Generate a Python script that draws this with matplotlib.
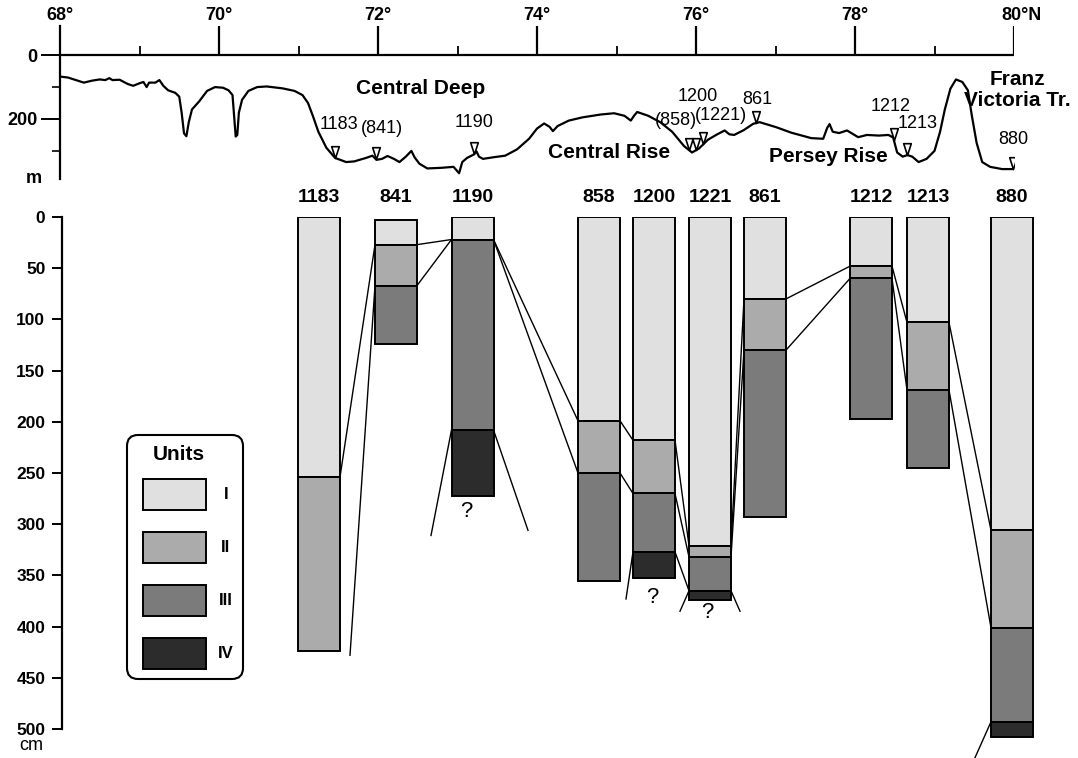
import numpy as np
import matplotlib
matplotlib.use('Agg')
import matplotlib.pyplot as plt
from matplotlib.patches import FancyBboxPatch, Rectangle
from matplotlib.path import Path

plt.rcParams['font.family'] = ['Liberation Sans', 'DejaVu Sans']

# bathymetric profile along the transect (latitude, depth in m)
prof_lat = [68.00, 68.10, 68.20, 68.30, 68.40, 68.50, 68.57, 68.62, 68.66, 68.75, 68.85, 68.92,
            69.00, 69.05, 69.09, 69.12, 69.20, 69.25, 69.30, 69.36, 69.45, 69.50, 69.53, 69.56,
            69.59, 69.62, 69.66, 69.75, 69.85, 69.95, 70.05, 70.12, 70.17, 70.19, 70.21, 70.23,
            70.25, 70.29, 70.37, 70.48, 70.60, 70.80, 70.95, 71.05, 71.12, 71.18, 71.25, 71.35,
            71.46, 71.60, 71.70, 71.85, 71.93, 71.98, 72.05, 72.12, 72.20, 72.27, 72.35, 72.42,
            72.46, 72.52, 72.62, 72.80, 72.95, 73.02, 73.06, 73.12, 73.20, 73.24, 73.27, 73.32,
            73.45, 73.60, 73.75, 73.90, 74.00, 74.09, 74.16, 74.20, 74.26, 74.40, 74.57, 74.80,
            74.97, 75.10, 75.18, 75.22, 75.26, 75.40, 75.55, 75.70, 75.85, 75.95, 76.04, 76.15,
            76.26, 76.36, 76.42, 76.48, 76.60, 76.72, 76.80, 77.00, 77.20, 77.45, 77.60, 77.65,
            77.68, 77.72, 77.80, 77.90, 78.04, 78.15, 78.30, 78.42, 78.48, 78.53, 78.60, 78.66,
            78.72, 78.80, 78.90, 79.00, 79.07, 79.13, 79.20, 79.27, 79.35, 79.42, 79.47, 79.53,
            79.60, 79.70, 79.85, 80.14]
prof_depth = [67, 70, 78, 86, 80, 76, 78, 72, 78, 77, 90, 96,
              88, 84, 100, 86, 86, 78, 96, 110, 118, 130, 180, 245,
              254, 210, 170, 145, 112, 100, 102, 110, 125, 190, 255, 250,
              180, 140, 112, 100, 98, 104, 112, 125, 150, 190, 240, 290,
              322, 335, 333, 322, 315, 328, 325, 316, 325, 335, 318, 300,
              320, 340, 355, 353, 350, 370, 335, 322, 312, 302, 318, 325,
              320, 315, 295, 262, 230, 214, 225, 238, 222, 205, 195, 186,
              182, 190, 205, 190, 178, 190, 210, 240, 285, 305, 292, 265,
              249, 236, 248, 250, 235, 215, 210, 225, 243, 260, 262, 228,
              216, 240, 244, 236, 257, 250, 252, 250, 258, 305, 318, 313,
              318, 335, 325, 300, 240, 170, 105, 76, 84, 110, 190, 275,
              335, 350, 357, 357]

# core sites on the profile
site_names = ['1183', '(841)', '1190', '(858)', '1200', '(1221)', '861', '1212', '1213', '880']
site_lat = [71.46, 71.97, 73.21, 75.91, 76.00, 76.09, 76.75, 78.49, 78.65, 79.99]
site_label_off = [(4, 33), (6, 30), (0, 31), (-13, 29), (2, 54), (18, 29),
                  (2, 24), (-3, 34), (11, 32), (0, 30)]

# lithological units in the cores, depth in cm (base of each unit)
unit_names = ['I', 'II', 'III', 'IV']
unit_colors = ['#e0e0e0', '#ababab', '#7b7b7b', '#2c2c2c']
core_names = ['1183', '841', '1190', '858', '1200', '1221', '861', '1212', '1213', '880']
core_top = [0, 3, 0, 0, 0, 0, 0, 0, 0, 0]
base_I = [254, 27, 22, 199, 218, 321, 80, 48, 103, 306]
base_II = [424, 67, 22, 250, 270, 332, 130, 60, 169, 401]
base_III = [424, 124, 208, 355, 327, 365, 293, 197, 245, 493]
base_IV = [424, 124, 272, 355, 353, 374, 293, 197, 245, 508]

# correlation of unit bases between neighbouring cores
ties = [('1183', 'I', '841', 'I'), ('841', 'I', '1190', 'I'), ('841', 'II', '1190', 'II'),
        ('1190', 'I', '858', 'I'), ('1190', 'II', '858', 'II'),
        ('858', 'I', '1200', 'I'), ('858', 'II', '1200', 'II'),
        ('1200', 'I', '1221', 'I'), ('1200', 'II', '1221', 'II'), ('1200', 'III', '1221', 'III'),
        ('1221', 'I', '861', 'I'), ('1221', 'II', '861', 'II'),
        ('861', 'I', '1212', 'I'), ('861', 'II', '1212', 'II'),
        ('1212', 'I', '1213', 'I'), ('1212', 'II', '1213', 'II'),
        ('1213', 'I', '880', 'I'), ('1213', 'II', '880', 'II')]
# boundaries that run out beyond the cores (core, unit base, side, end x px, end depth cm)
open_ties = [('841', 'II', 'left', 350, 428), ('1190', 'III', 'left', 431, 311),
             ('1190', 'III', 'right', 528, 306), ('1200', 'III', 'left', 626, 373),
             ('1221', 'III', 'left', 680, 385), ('1221', 'III', 'right', 740, 385),
             ('880', 'III', 'left', 975, 528)]
query_marks = [(466, 288), (652, 372), (707, 386)]

# layout (pixels)
W, H = 1078, 758
core_x = [319, 396, 472.5, 599, 654, 710, 765, 871, 928, 1012]
col_w = 42


def px_rect(left, top, right, bottom):
    return [left / W, 1 - bottom / H, (right - left) / W, (bottom - top) / H]


fig = plt.figure(figsize=(W / 100, H / 100), dpi=100)

# ---------------- bathymetric profile ----------------
ax1 = fig.add_axes(px_rect(60, 20, 1014, 185))
ax1.set_xlim(68, 80)
ax1.set_ylim(406.9, -110.3)
ax1.patch.set_visible(False)
for s in ['top', 'right', 'bottom']:
    ax1.spines[s].set_visible(False)
ax1.spines['left'].set_bounds(-91, 388)
ax1.spines['left'].set_linewidth(1.6)
ax1.hlines(0, 68, 80, color='black', lw=1.6)
ax1.vlines(np.arange(70, 81, 2), -91, 0, color='black', lw=1.6)
ax1.vlines(np.arange(69, 80, 2), -28, 0, color='black', lw=1.3)
ax1.set_xticks([])
ax1.set_yticks([0, 200])
ax1.set_yticklabels(['0', '200'], fontsize=13, fontweight='bold')
ax1.set_yticks([100, 300], minor=True)
ax1.tick_params(axis='y', which='major', length=14, width=1.4, pad=2)
ax1.tick_params(axis='y', which='minor', length=6, width=1.2)
ax1.text(67.67, 385, 'm', fontsize=13, fontweight='bold', ha='center', va='center')

lat_labels = ['68°', '70°', '72°', '74°', '76°', '78°', '80°N']
for lat, lab in zip(range(68, 81, 2), lat_labels):
    dx = 7 if lab.endswith('N') else 0
    ax1.annotate(lab, (lat, -125), xytext=(dx, 0), textcoords='offset pixels',
                 fontsize=13, fontweight='bold', ha='center', va='center',
                 annotation_clip=False)

ax1.plot(prof_lat, prof_depth, color='black', lw=1.6, zorder=2)

tri = Path([(0, 0), (-0.45, 1.4), (0.45, 1.4), (0, 0)],
           [Path.MOVETO, Path.LINETO, Path.LINETO, Path.CLOSEPOLY])
site_depth = np.interp(site_lat, prof_lat, prof_depth)
ax1.plot(site_lat, site_depth, ls='none', marker=tri, ms=17, mfc='white',
         mec='black', mew=1.2, zorder=3)
for name, lat, d, off in zip(site_names, site_lat, site_depth, site_label_off):
    ax1.annotate(name, (lat, d), xytext=off, textcoords='offset pixels',
                 fontsize=13, ha='center', va='center', annotation_clip=False)

ax1.text(72.53, 103, 'Central Deep', fontsize=15, fontweight='bold', ha='center', va='center')
ax1.text(74.91, 306, 'Central Rise', fontsize=15, fontweight='bold', ha='center', va='center')
ax1.text(77.67, 319, 'Persey Rise', fontsize=15, fontweight='bold', ha='center', va='center')
ax1.text(80.04, 108, 'Franz\nVictoria Tr.', fontsize=15, fontweight='bold',
         ha='center', va='center', linespacing=1.15)

# ---------------- core columns ----------------
ax2 = fig.add_axes(px_rect(62, 217, W, H))
ax2.set_xlim(62, W)
ax2.set_ylim((H - 217) / 1.024, 0)
ax2.patch.set_visible(False)
for s in ['top', 'right', 'bottom']:
    ax2.spines[s].set_visible(False)
ax2.spines['left'].set_bounds(0, 500)
ax2.spines['left'].set_linewidth(1.6)
ax2.set_xticks([])
ax2.set_yticks(np.arange(0, 501, 50))
ax2.tick_params(axis='y', length=7, width=1.4, labelsize=12.5, pad=5)
for t in ax2.get_yticklabels():
    t.set_fontweight('bold')
ax2.text(-0.018, (746 - 217) / 1.024, 'cm', transform=ax2.get_yaxis_transform(),
         fontsize=13, ha='right', va='center', clip_on=False)

bases = {'I': base_I, 'II': base_II, 'III': base_III, 'IV': base_IV}
prev = np.array(core_top, dtype=float)
for unit, color in zip(unit_names, unit_colors):
    b = np.array(bases[unit], dtype=float)
    h = b - prev
    keep = h > 0
    ax2.bar(np.array(core_x)[keep], h[keep], bottom=prev[keep], width=col_w,
            color=color, edgecolor='black', lw=1.4, zorder=2)
    prev = b

for name, x in zip(core_names, core_x):
    ax2.text(x, -19.5, name, fontsize=14, fontweight='bold', ha='center', va='center')

idx = {n: i for i, n in enumerate(core_names)}
for a, ua, b, ub in ties:
    ia, ib = idx[a], idx[b]
    ax2.plot([core_x[ia] + col_w / 2, core_x[ib] - col_w / 2],
             [bases[ua][ia], bases[ub][ib]], color='black', lw=1.0, zorder=1)
for c, u, side, x_end, d_end in open_ties:
    i = idx[c]
    x0 = core_x[i] - col_w / 2 if side == 'left' else core_x[i] + col_w / 2
    ax2.plot([x0, x_end], [bases[u][i], d_end], color='black', lw=1.0, zorder=1,
             clip_on=False)
for x, d in query_marks:
    ax2.text(x, d, '?', fontsize=16, ha='center', va='center')

# ---------------- units key ----------------
ax3 = fig.add_axes([0, 0, 1, 1])
ax3.set_xlim(0, W)
ax3.set_ylim(H, 0)
ax3.axis('off')
ax3.add_patch(FancyBboxPatch((127, 435), 116, 244, boxstyle='round,pad=0,rounding_size=11',
                             fc='white', ec='black', lw=1.5))
ax3.text(179, 455, 'Units', fontsize=15, fontweight='bold', ha='center', va='center')
for k, (unit, color) in enumerate(zip(unit_names, unit_colors)):
    y0 = 479 + k * 53
    ax3.add_patch(Rectangle((143, y0), 63, 31, fc=color, ec='black', lw=1.4))
    ax3.text(226, y0 + 15.5, unit, fontsize=12, fontweight='bold', ha='center', va='center')

fig.savefig('out.png', dpi=100)
